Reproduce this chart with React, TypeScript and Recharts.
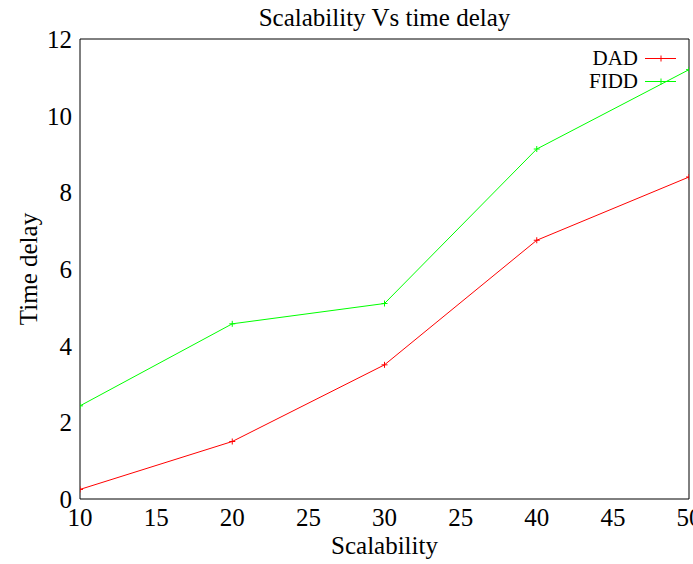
import React from 'react';
import { LineChart, Line, XAxis, YAxis, Label } from 'recharts';

const xValues = [10, 20, 30, 40, 50];
const dadValues = [0.25, 1.5, 3.5, 6.75, 8.4];
const fiddValues = [2.43, 4.57, 5.1, 9.13, 11.2];
const xTicks = [10, 15, 20, 25, 30, 35, 40, 45, 50];
const xTickLabels = ['10', '15', '20', '25', '30', '25', '40', '45', '50'];
const yTicks = [0, 2, 4, 6, 8, 10, 12];
const seriesNames = ['DAD', 'FIDD'];
const seriesColors = ['#ff0000', '#00ff00'];

const FONT = '"Liberation Serif", "Times New Roman", serif';

const data = xValues.map((x, i) => ({ x, dad: dadValues[i], fidd: fiddValues[i] }));

function PlusDot(props: any) {
  const { cx, cy, stroke } = props;
  if (cx == null || cy == null) return null;
  return (
    <path
      d={`M${cx - 3},${cy}h6M${cx},${cy - 3}v6`}
      stroke={stroke}
      strokeWidth={1}
      fill="none"
    />
  );
}

const tickStyle = { fill: '#000', fontSize: 25, fontFamily: FONT };

export default function App() {
  return (
    <div style={{ position: 'absolute', left: 0, top: 0, width: 693, height: 564, background: '#fff', fontFamily: FONT }}>
      <div style={{ position: 'absolute', left: 80, top: 6, width: 609, textAlign: 'center', fontSize: 25, lineHeight: '24px', color: '#000' }}>
        Scalability Vs time delay
      </div>
      <LineChart width={693} height={564} data={data} margin={{ top: 39, right: 4, bottom: 0, left: 0 }}>
        {/* labelled axes */}
        <XAxis
          xAxisId="b"
          dataKey="x"
          type="number"
          domain={[10, 50]}
          allowDataOverflow
          ticks={xTicks}
          interval={0}
          tickFormatter={(v: number) => xTickLabels[xTicks.indexOf(v)]}
          height={65}
          tickSize={0}
          tickMargin={9}
          axisLine={false}
          tickLine={false}
          tick={tickStyle}
        >
          <Label value="Scalability" position="insideBottom" offset={10} style={{ fill: '#000', fontSize: 25, fontFamily: FONT }} />
        </XAxis>
        <YAxis
          yAxisId="l"
          type="number"
          domain={[0, 12]}
          allowDataOverflow
          ticks={yTicks}
          interval={0}
          width={80}
          tickSize={0}
          tickMargin={8}
          axisLine={false}
          tickLine={false}
          tick={tickStyle}
        >
          <Label value="Time delay" angle={-90} position="insideLeft" offset={28} style={{ fill: '#000', fontSize: 25, fontFamily: FONT, textAnchor: 'middle' }} />
        </YAxis>
        {/* frame with inward ticks */}
        <XAxis xAxisId="bm" dataKey="x" type="number" domain={[10, 50]} allowDataOverflow ticks={xTicks} interval={0} orientation="bottom" mirror height={1} tickSize={5} tick={false} stroke="#000" />
        <XAxis xAxisId="t" dataKey="x" type="number" domain={[10, 50]} allowDataOverflow ticks={xTicks} interval={0} orientation="top" mirror height={1} tickSize={5} tick={false} stroke="#000" />
        <YAxis yAxisId="lm" type="number" domain={[0, 12]} allowDataOverflow ticks={yTicks} interval={0} orientation="left" mirror width={1} tickSize={5} tick={false} stroke="#000" />
        <YAxis yAxisId="rm" type="number" domain={[0, 12]} allowDataOverflow ticks={yTicks} interval={0} orientation="right" mirror width={1} tickSize={5} tick={false} stroke="#000" />
        <Line xAxisId="bm" yAxisId="lm" dataKey="fidd" stroke="none" dot={false} activeDot={false} legendType="none" isAnimationActive={false} />
        <Line xAxisId="t" yAxisId="rm" dataKey="fidd" stroke="none" dot={false} activeDot={false} legendType="none" isAnimationActive={false} />
        <Line xAxisId="b" yAxisId="l" type="linear" dataKey="dad" name="DAD" stroke={seriesColors[0]} strokeWidth={1} dot={<PlusDot />} activeDot={false} isAnimationActive={false} />
        <Line xAxisId="b" yAxisId="l" type="linear" dataKey="fidd" name="FIDD" stroke={seriesColors[1]} strokeWidth={1} dot={<PlusDot />} activeDot={false} isAnimationActive={false} />
      </LineChart>
      <div style={{ position: 'absolute', right: 14, top: 47 }}>
        {seriesNames.map((name, i) => (
          <div key={name} style={{ display: 'flex', justifyContent: 'flex-end', alignItems: 'center', height: 23 }}>
            <span style={{ fontSize: 21, lineHeight: '23px', marginRight: 5, color: '#000' }}>{name}</span>
            <svg width={36} height={23}>
              <line x1={2} y1={11.5} x2={33} y2={11.5} stroke={seriesColors[i]} strokeWidth={1} />
              <PlusDot cx={18} cy={11.5} stroke={seriesColors[i]} />
            </svg>
          </div>
        ))}
      </div>
    </div>
  );
}
